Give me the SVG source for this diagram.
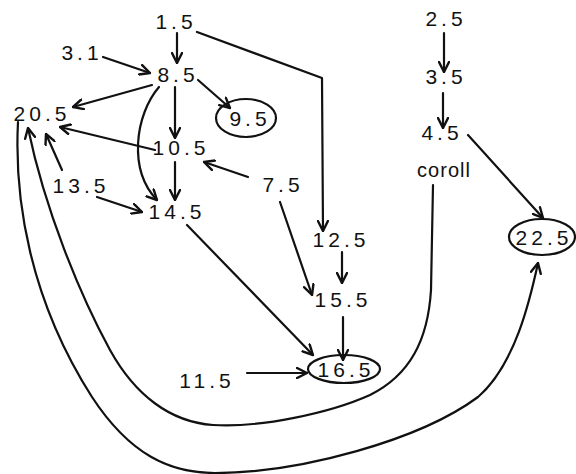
<svg xmlns="http://www.w3.org/2000/svg" width="576" height="474" viewBox="0 0 576 474">
<style>
text{font-family:"Liberation Sans","DejaVu Sans",sans-serif;font-size:21px;fill:#111;text-anchor:middle;letter-spacing:4px}
.w{letter-spacing:1px;font-size:20px}
.e{fill:none;stroke:#111;stroke-width:2.2}
.c path{fill:none;stroke:#111;stroke-width:2.2;stroke-linecap:round;stroke-linejoin:round}
.a{marker-end:url(#ah)}
</style>
<defs>
<marker id="ah" viewBox="0 0 12 12" refX="11" refY="6" markerWidth="12" markerHeight="12" markerUnits="userSpaceOnUse" orient="auto">
<path d="M1,1 L11,6 L1,11" fill="none" stroke="#111" stroke-width="2.4" stroke-linecap="round" stroke-linejoin="round"/>
</marker>
</defs>
<rect width="576" height="474" fill="#fff"/>
<g class="c" id="connectors">
<path class="a" d="M177,33 L177,63"/>
<path class="a" d="M197,32 L322,78 L323,231"/>
<path class="a" d="M103,57 L150,73"/>
<path class="a" d="M152,85 L73,107"/>
<path class="a" d="M198,80 L230,108"/>
<path class="a" d="M175,87 L175,138"/>
<path class="a" d="M159,87 C135,115 128,170 157,200"/>
<path class="a" d="M155,150 L60,127"/>
<path class="a" d="M248,177 L204,162"/>
<path class="a" d="M62,170 L46,134"/>
<path class="a" d="M97,197 L142,212"/>
<path class="a" d="M175,162 L175,200"/>
<path class="a" d="M187,225 L313,355"/>
<path class="a" d="M280,202 L312,295"/>
<path class="a" d="M342,252 L342,283"/>
<path class="a" d="M343,317 L343,360"/>
<path class="a" d="M247,373 L307,373"/>
<path class="a" d="M444,33 L444,72"/>
<path class="a" d="M443,93 L443,128"/>
<path class="a" d="M468,135 L543,218"/>
<path class="a" d="M433,185 L431,290 C428,340 410,375 370,395 C330,413 260,428 213,425 C170,422 135,395 110,350 C80,295 45,210 28,128"/>
<path class="a" d="M18,122 C14,200 30,300 92,397 C130,455 170,473 215,473 C300,473 420,440 478,397 C515,365 530,300 538,263"/>
</g>
<g id="n1_5"><text x="176" y="29">1.5</text></g>
<g id="n3_1"><text x="82" y="60">3.1</text></g>
<g id="n8_5"><text x="178" y="82">8.5</text></g>
<g id="n20_5"><text x="42" y="121">20.5</text></g>
<g id="n9_5"><ellipse class="e" cx="246" cy="118" rx="30" ry="19"/><text x="250" y="126">9.5</text></g>
<g id="n10_5"><text x="181" y="155">10.5</text></g>
<g id="n13_5"><text x="81" y="193">13.5</text></g>
<g id="n14_5"><text x="177" y="219">14.5</text></g>
<g id="n7_5"><text x="283" y="192">7.5</text></g>
<g id="n12_5"><text x="341" y="247">12.5</text></g>
<g id="n15_5"><text x="343" y="307">15.5</text></g>
<g id="n16_5"><ellipse class="e" cx="344" cy="369" rx="36" ry="14"/><text x="346" y="377">16.5</text></g>
<g id="n11_5"><text x="207" y="388">11.5</text></g>
<g id="n2_5"><text x="446" y="26">2.5</text></g>
<g id="n3_5"><text x="446" y="84">3.5</text></g>
<g id="n4_5"><text x="442" y="140">4.5</text></g>
<g id="ncoroll"><text class="w" x="444" y="177">coroll</text></g>
<g id="n22_5"><ellipse class="e" cx="542" cy="237" rx="33" ry="18"/><text x="544" y="245">22.5</text></g>
</svg>
